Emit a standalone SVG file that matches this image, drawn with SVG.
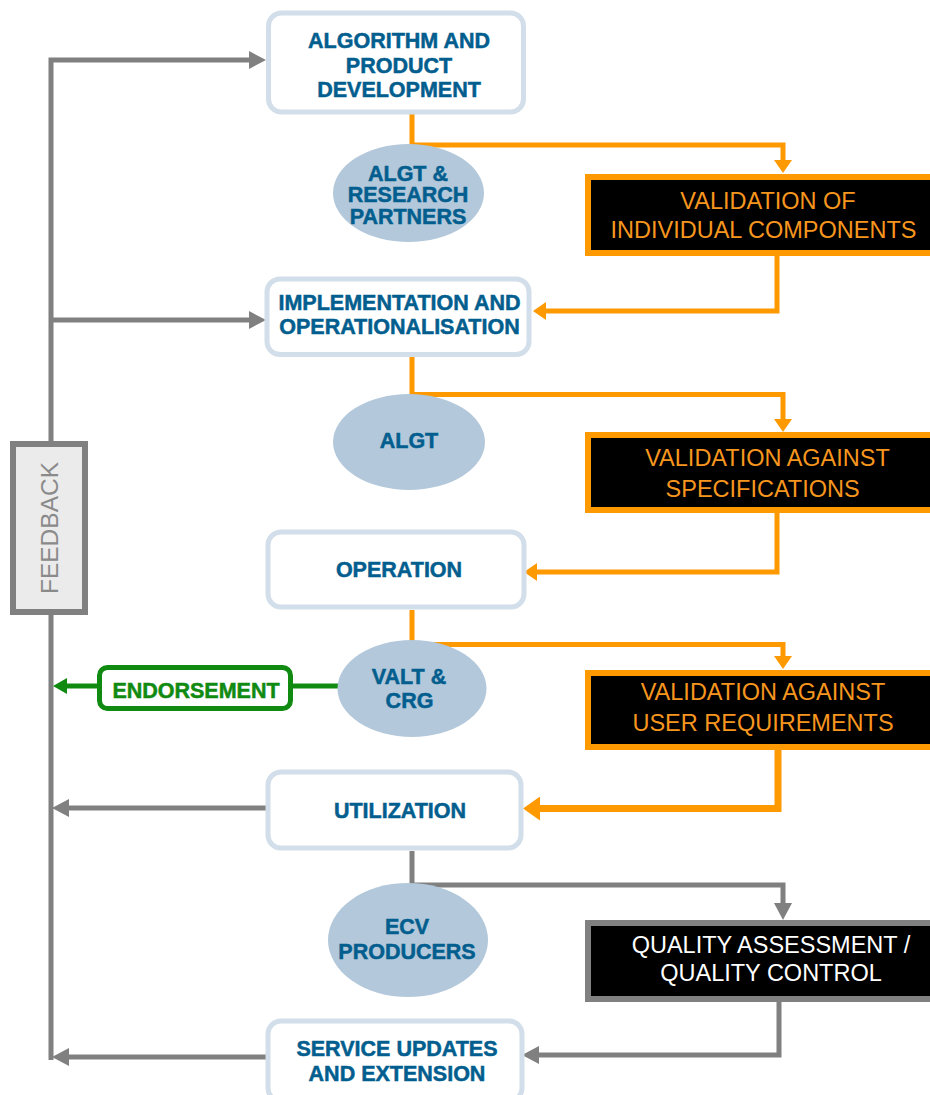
<svg xmlns="http://www.w3.org/2000/svg" width="930" height="1095" viewBox="0 0 930 1095">
<style>
.bg{fill:#ffffff}
.box{fill:#ffffff;stroke:#d2dee9;stroke-width:5}
.ell{fill:#b3c8da}
.bt{font-family:"Liberation Sans",Arial,sans-serif;font-weight:bold;font-size:21.5px;fill:#025e8e;stroke:#025e8e;stroke-width:0.5;text-anchor:middle}
.val{fill:#000000;stroke:#ff9900;stroke-width:6}
.qa{fill:#000000;stroke:#808080;stroke-width:6}
.vt{font-family:"Liberation Sans",Arial,sans-serif;font-size:23.5px;fill:#f7961e;text-anchor:middle}
.qt{font-family:"Liberation Sans",Arial,sans-serif;font-size:23.5px;fill:#ffffff;text-anchor:middle}
.or{fill:none;stroke:#ff9900;stroke-width:5}
.or2{fill:none;stroke:#ff9900;stroke-width:7}
.gr{fill:none;stroke:#808080;stroke-width:5}
.gn{fill:none;stroke:#118a11;stroke-width:5}
.fb{fill:#ebebeb;stroke:#808080;stroke-width:6}
.fbt{font-family:"Liberation Sans",Arial,sans-serif;font-size:24.5px;fill:#8a8a8a;text-anchor:middle}
.en{fill:#ffffff;stroke:#118a11;stroke-width:5}
.ent{font-family:"Liberation Sans",Arial,sans-serif;font-weight:bold;font-size:21.5px;fill:#118a11;stroke:#118a11;stroke-width:0.5;text-anchor:middle}
</style>
<defs>
<marker id="aO" markerUnits="userSpaceOnUse" markerWidth="13" markerHeight="18" viewBox="0 0 13 18" refX="0" refY="9" orient="auto"><path d="M0,0 L13,9 L0,18 Z" fill="#ff9900"/></marker>
<marker id="aO2" markerUnits="userSpaceOnUse" markerWidth="17" markerHeight="24" viewBox="0 0 17 24" refX="0" refY="12" orient="auto"><path d="M0,0 L17,12 L0,24 Z" fill="#ff9900"/></marker>
<marker id="aG" markerUnits="userSpaceOnUse" markerWidth="17" markerHeight="18" viewBox="0 0 17 18" refX="0" refY="9" orient="auto"><path d="M0,0 L17,9 L0,18 Z" fill="#808080"/></marker>
<marker id="aN" markerUnits="userSpaceOnUse" markerWidth="14" markerHeight="16" viewBox="0 0 14 16" refX="0" refY="8" orient="auto"><path d="M0,0 L14,8 L0,16 Z" fill="#118a11"/></marker>
</defs>
<rect class="bg" x="0" y="0" width="930" height="1095"/>
<g id="connectors">
<path class="or" d="M412,114 V145 H783 V160" marker-end="url(#aO)"/>
<path class="or" d="M777,256 V311 H546" marker-end="url(#aO)"/>
<path class="or" d="M412,357 V394.5 H783 V419" marker-end="url(#aO)"/>
<path class="or" d="M777,513 V572 H537" marker-end="url(#aO)"/>
<path class="or" d="M412,610 V644.5 H783 V656" marker-end="url(#aO)"/>
<path class="or2" d="M778,750 V808.5 H540" marker-end="url(#aO2)"/>
<path class="gr" d="M51,1060 V60 H249" marker-end="url(#aG)"/>
<path class="gr" d="M51,320 H249" marker-end="url(#aG)"/>
<path class="gr" d="M266,808 H69" marker-end="url(#aG)"/>
<path class="gr" d="M266,1057 H69" marker-end="url(#aG)"/>
<path class="gr" d="M412,851 V885 H783 V903" marker-end="url(#aG)"/>
<path class="gr" d="M779,1002 V1055 H539" marker-end="url(#aG)"/>
<path class="gn" d="M339,686 H290"/>
<path class="gn" d="M99,686 H67" marker-end="url(#aN)"/>
</g>
<g id="feedback">
<rect class="fb" x="13" y="444" width="72" height="168"/>
<text class="fbt" x="58" y="528" transform="rotate(-90 58 528)">FEEDBACK</text>
</g>
<g id="algorithm">
<rect class="box" x="268.5" y="13" width="255" height="99" rx="13"/>
<text class="bt" x="399" y="48">ALGORITHM AND</text>
<text class="bt" x="399" y="73">PRODUCT</text>
<text class="bt" x="399" y="97">DEVELOPMENT</text>
</g>
<g id="algt-research">
<ellipse class="ell" cx="408.5" cy="193" rx="75.5" ry="49"/>
<text class="bt" x="408" y="181">ALGT &amp;</text>
<text class="bt" x="408" y="202">RESEARCH</text>
<text class="bt" x="408" y="224">PARTNERS</text>
</g>
<g id="val-components">
<rect class="val" x="588" y="177" width="350" height="76"/>
<text class="vt" x="768" y="209">VALIDATION OF</text>
<text class="vt" x="763.5" y="238">INDIVIDUAL COMPONENTS</text>
</g>
<g id="implementation">
<rect class="box" x="267" y="279" width="262" height="75.5" rx="13"/>
<text class="bt" x="399.5" y="310">IMPLEMENTATION AND</text>
<text class="bt" x="399.5" y="334">OPERATIONALISATION</text>
</g>
<g id="algt">
<ellipse class="ell" cx="409" cy="442" rx="76" ry="48"/>
<text class="bt" x="409" y="448">ALGT</text>
</g>
<g id="val-specs">
<rect class="val" x="588" y="435" width="350" height="75"/>
<text class="vt" x="767.5" y="466">VALIDATION AGAINST</text>
<text class="vt" x="762.6" y="497">SPECIFICATIONS</text>
</g>
<g id="operation">
<rect class="box" x="268" y="532" width="256" height="75" rx="13"/>
<text class="bt" x="399" y="577">OPERATION</text>
</g>
<g id="valt-crg">
<ellipse class="ell" cx="412" cy="688.5" rx="74.5" ry="48.5"/>
<text class="bt" x="409" y="684">VALT &amp;</text>
<text class="bt" x="409.5" y="708">CRG</text>
</g>
<g id="endorsement">
<rect class="en" x="99.5" y="667.5" width="191" height="41" rx="8"/>
<text class="ent" x="196" y="698">ENDORSEMENT</text>
</g>
<g id="val-user">
<rect class="val" x="588" y="673" width="350" height="74"/>
<text class="vt" x="763" y="700">VALIDATION AGAINST</text>
<text class="vt" x="763" y="731">USER REQUIREMENTS</text>
</g>
<g id="utilization">
<rect class="box" x="268" y="772" width="253" height="76" rx="13"/>
<text class="bt" x="400" y="818">UTILIZATION</text>
</g>
<g id="ecv-producers">
<ellipse class="ell" cx="408" cy="940" rx="80" ry="57"/>
<text class="bt" x="407" y="934">ECV</text>
<text class="bt" x="407" y="959">PRODUCERS</text>
</g>
<g id="qa-qc">
<rect class="qa" x="588" y="923" width="350" height="76"/>
<text class="qt" x="771" y="953">QUALITY ASSESSMENT /</text>
<text class="qt" x="771" y="981">QUALITY CONTROL</text>
</g>
<g id="service-updates">
<rect class="box" x="268" y="1021" width="254" height="80" rx="13"/>
<text class="bt" x="397" y="1056">SERVICE UPDATES</text>
<text class="bt" x="397" y="1081">AND EXTENSION</text>
</g>
</svg>
